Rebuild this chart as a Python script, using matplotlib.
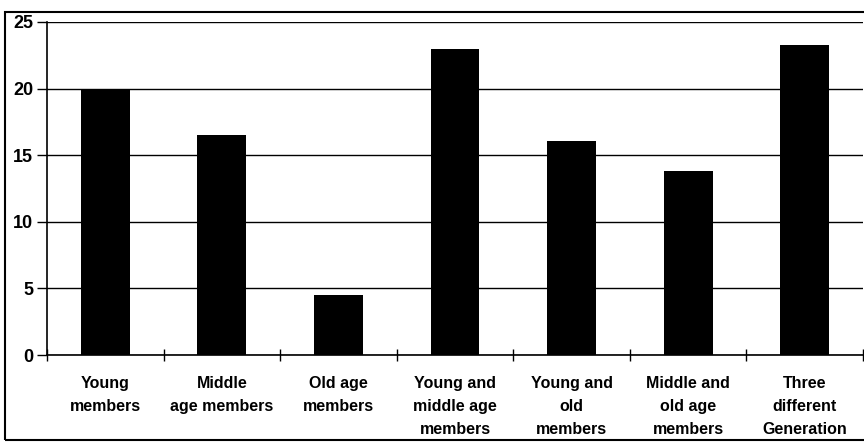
import matplotlib
matplotlib.use('Agg')
import matplotlib.pyplot as plt
from matplotlib.patches import Rectangle
import numpy as np

plt.rcParams['font.family'] = ['Liberation Sans', 'DejaVu Sans']
plt.rcParams['font.weight'] = 'bold'

categories = ['Young\nmembers', 'Middle\nage members', 'Old age\nmembers',
              'Young and\nmiddle age\nmembers', 'Young and\nold\nmembers',
              'Middle and\nold age\nmembers', 'Three\ndifferent\nGeneration']
values = [20, 16.5, 4.5, 23, 16.1, 13.8, 23.3]
y_ticks = [0, 5, 10, 15, 20, 25]

fig = plt.figure(figsize=(8.64, 4.43), dpi=100)
ax = fig.add_axes([47 / 864, 1 - 355 / 443, 816 / 864, 333 / 443])

x = np.arange(len(categories))
ax.bar(x, values, width=0.42, color='black', zorder=3)

ax.set_xlim(-0.5, len(categories) - 0.5)
ax.set_ylim(0, 25)
ax.set_yticks(y_ticks)
ax.set_yticklabels([str(t) for t in y_ticks], fontsize=13, fontweight='bold')
ax.yaxis.grid(True, color='black', linewidth=1.0)
ax.set_axisbelow(True)

ax.set_xticks(x)
ax.set_xticklabels(categories, fontsize=11.5, fontweight='bold', linespacing=1.68, va='top')
ax.tick_params(axis='x', which='major', length=0, pad=15)
ax.set_xticks(np.arange(len(categories) + 1) - 0.5, minor=True)
ax.tick_params(axis='x', which='minor', direction='inout', length=9, width=1)
ax.tick_params(axis='y', direction='out', length=7, width=1, pad=3)

for s in ['top', 'right']:
    ax.spines[s].set_visible(False)
ax.spines['left'].set_linewidth(1.2)
ax.spines['bottom'].set_linewidth(1.2)

fig.patches.append(Rectangle((5 / 864, 3 / 443), 1.0, 1 - 15 / 443, transform=fig.transFigure,
                             fill=False, edgecolor='black', linewidth=1.5))

fig.savefig('out.png', dpi=100)
